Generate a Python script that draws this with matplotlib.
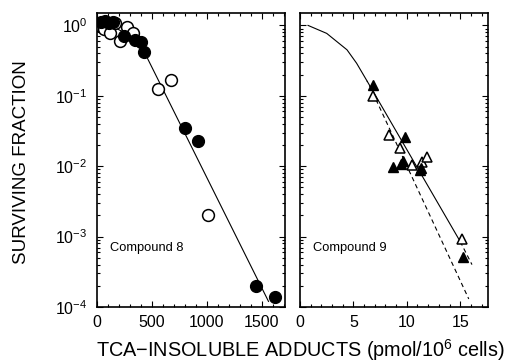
import matplotlib
matplotlib.use("Agg")
import matplotlib.pyplot as plt
from matplotlib.ticker import LogLocator, MultipleLocator, NullFormatter, FixedLocator

plt.rcParams['font.family'] = ['Liberation Sans', 'DejaVu Sans']
plt.rcParams['mathtext.default'] = 'regular'

# ---- Compound 8 (left panel) ----
c8_filled_x = [40, 70, 110, 150, 245, 350, 400, 427, 800, 918, 1450, 1620]
c8_filled_y = [1.10, 1.15, 1.08, 1.12, 0.70, 0.62, 0.58, 0.42, 0.035, 0.023, 2.0e-4, 1.4e-4]
c8_open_x = [0, 60, 120, 160, 210, 270, 330, 555, 670, 1010]
c8_open_y = [1.0, 0.90, 0.77, 1.07, 0.60, 0.94, 0.77, 0.125, 0.17, 0.002]
c8_fit_x = [0, 150, 300, 430, 1560]
c8_fit_y = [1.0, 0.95, 0.72, 0.42, 1.2e-4]

# ---- Compound 9 (right panel) ----
c9_filled_x = [6.85, 9.8, 9.6, 9.45, 8.7, 11.2, 11.3, 15.25]
c9_filled_y = [0.143, 0.026, 0.0118, 0.0107, 0.0097, 0.0088, 0.0095, 5.2e-4]
c9_open_x = [6.85, 8.3, 9.35, 10.5, 11.4, 11.9, 15.2]
c9_open_y = [0.10, 0.028, 0.018, 0.0105, 0.0115, 0.0135, 9.3e-4]
c9_curve_x = [0.75, 2.5, 4.4, 5.3, 6.3]
c9_curve_y = [1.0, 0.77, 0.45, 0.29, 0.16]
c9_solid_x = [6.3, 15.0]
c9_solid_y = [0.16, 8.5e-4]
c9_solid_ext_x = [15.0, 16.1]
c9_solid_ext_y = [8.5e-4, 4.0e-4]
c9_dash_x = [6.5, 15.8]
c9_dash_y = [0.14, 1.3e-4]

ytick_vals = [1e-4, 1e-3, 1e-2, 1e-1, 1e0]
ytick_labels = ['$10^{-4}$', '$10^{-3}$', '$10^{-2}$', '$10^{-1}$', '$10^{0}$']

fig = plt.figure(figsize=(5.06, 3.64), dpi=100)
ax1 = fig.add_axes([97/506, 57/364, 188/506, 294/364])
ax2 = fig.add_axes([300/506, 57/364, 188/506, 294/364])

lw = 0.8
ms_c = 8.5
ms_t = 7.5

ax1.plot(c8_fit_x, c8_fit_y, color='black', lw=lw, zorder=1)
ax1.plot(c8_open_x, c8_open_y, 'o', mfc='white', mec='black', mew=1.1, ms=ms_c, zorder=2)
ax1.plot(c8_filled_x, c8_filled_y, 'o', mfc='black', mec='black', ms=ms_c, zorder=3)

ax2.plot(c9_curve_x, c9_curve_y, color='black', lw=lw, zorder=1)
ax2.plot(c9_solid_x, c9_solid_y, color='black', lw=lw, zorder=1)
ax2.plot(c9_solid_ext_x, c9_solid_ext_y, color='black', lw=lw, ls=(0, (4, 3)), zorder=1)
ax2.plot(c9_dash_x, c9_dash_y, color='black', lw=lw, ls=(0, (4, 3)), zorder=1)
ax2.plot(c9_open_x, c9_open_y, '^', mfc='white', mec='black', mew=1.1, ms=ms_t, zorder=2)
ax2.plot(c9_filled_x, c9_filled_y, '^', mfc='black', mec='black', ms=ms_t, zorder=3)

for ax in (ax1, ax2):
    ax.set_yscale('log')
    ax.set_ylim(1e-4, 1.5)
    ax.yaxis.set_major_locator(FixedLocator(ytick_vals))
    ax.yaxis.set_minor_locator(LogLocator(base=10, subs=range(2, 10), numticks=20))
    ax.yaxis.set_minor_formatter(NullFormatter())
    ax.tick_params(which='both', direction='in', top=True, right=True, width=0.8)
    ax.tick_params(which='major', length=4)
    ax.tick_params(which='minor', length=2)
    for s in ax.spines.values():
        s.set_linewidth(1.2)

ax1.set_xlim(0, 1710)
ax1.xaxis.set_major_locator(MultipleLocator(500))
ax1.xaxis.set_minor_locator(MultipleLocator(100))
ax1.set_yticklabels(ytick_labels)
ax1.tick_params(axis='both', labelsize=11.5)
ax1.tick_params(axis='y', pad=7)
ax1.tick_params(axis='x', pad=6)

ax2.set_xlim(0, 17.6)
ax2.xaxis.set_major_locator(MultipleLocator(5))
ax2.xaxis.set_minor_locator(MultipleLocator(1))
ax2.set_yticklabels([])
ax2.tick_params(axis='both', labelsize=11.5)
ax2.tick_params(axis='x', pad=6)

ax1.text(0.07, 0.20, 'Compound 8', transform=ax1.transAxes, fontsize=9.3, va='center')
ax2.text(0.07, 0.20, 'Compound 9', transform=ax2.transAxes, fontsize=9.3, va='center')

fig.text(22/506, 202/364, 'SURVIVING FRACTION', rotation=90, ha='center', va='center', fontsize=13.5)
fig.text(300/506, 14/364, 'TCA\u2212INSOLUBLE ADDUCTS (pmol/$10^{6}$ cells)', ha='center', va='center', fontsize=14.3)

fig.savefig('out.png', dpi=100)
